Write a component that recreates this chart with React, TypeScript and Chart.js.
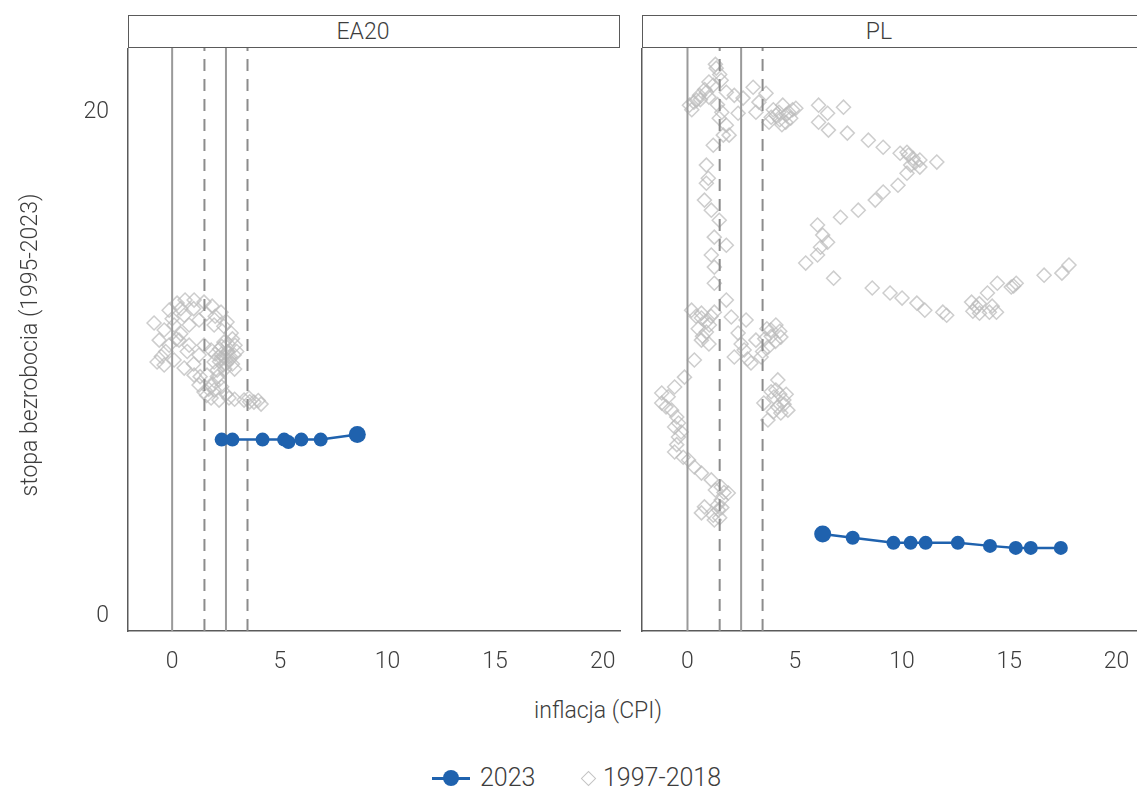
import React, { useEffect, useRef } from "react";
import { Chart, registerables } from "chart.js";

Chart.register(...registerables);

// ---------- data ----------
const panelNames = ["EA20", "PL"];
const xTickValues = [0, 5, 10, 15, 20];
const yTickValues = [0, 20];
const refSolid = [0, 2.5];
const refDashed = [1.5, 3.5];
const xTitle = "inflacja (CPI)";
const yTitle = "stopa bezrobocia (1995-2023)";
const legendLabels = ["2023", "1997-2018"];

const eaCpi2023 = [2.3, 2.8, 4.2, 5.2, 5.4, 6.0, 6.9, 8.6];
const eaUnemp2023 = [7.0, 7.0, 7.0, 7.0, 6.9, 7.0, 7.0, 7.2];

const plCpi2023 = [6.3, 7.7, 9.6, 10.4, 11.1, 12.6, 14.1, 15.3, 16.0, 17.4];
const plUnemp2023 = [3.25, 3.1, 2.9, 2.9, 2.9, 2.9, 2.78, 2.7, 2.7, 2.7];

const eaHistCpi = [
  -0.84, -0.6, -0.7, -0.37, -0.14, 0.23, 0.6, 1.02, 1.48, 1.86,
  2.27, 2.55, 2.74, 2.92, 2.55, 2.27, 1.95, 2.09, 2.37, 2.64,
  1.81, 1.48, 1.25, 0.79, 0.32, 0.09, 0.56, 1.02, 1.25, 1.48,
  1.81, 2.18, 2.64, 3.34, 3.8, 4.13, 3.57, 0.79, 1.25, 0.09,
  -0.14, -0.37, 0.56, 1.95, 2.41, 2.88, 2.18, 1.62, 1.95, 2.3,
  2.5, 2.6, 2.2,
  2.4, 2.5, 2.7, 2.3, 2.6, 2.2, 2.0, 2.8, 2.45, 2.1,
  1.9, 1.7, 2.3, 2.5, 1.3, 1.0, 0.7, 0.4, 0.2, -0.3,
  -0.5, 0.0, 0.4, 1.0, 1.6, 2.0, 2.4, 2.8, 3.0, 2.9,
  3.6, 4.0, 2.9, 1.6,
];
const eaHistUnemp = [
  11.63, 10.95, 10.08, 11.35, 12.14, 12.42, 12.54, 12.54, 12.46, 12.3,
  12.06, 11.67, 11.23, 10.75, 10.48, 10.24, 10.08, 9.76, 9.96, 10.16,
  10.56, 10.75, 10.36, 10.75, 10.95, 10.16, 9.84, 9.56, 9.17, 8.89,
  8.65, 8.57, 8.65, 8.57, 8.49, 8.41, 8.65, 11.55, 11.75, 11.55,
  10.75, 9.96, 11.94, 11.55, 10.87, 10.36, 9.37, 9.56, 8.97, 10.4,
  10.2, 10.5, 10.6,
  10.3, 10.0, 10.3, 10.7, 10.8, 10.1, 10.4, 10.0, 9.8, 9.5,
  9.2, 9.0, 9.1, 8.8, 9.5, 10.0, 10.5, 11.2, 11.0, 10.5,
  10.3, 11.8, 12.2, 12.2, 12.0, 11.9, 11.5, 11.0, 10.5, 9.8,
  8.5, 8.55, 8.6, 8.75,
];

const plHistCpi = [
  1.34, 1.2, 0.56, 0.09, 0.42, 0.88, 1.57, 1.81, 2.18, 1.48,
  1.81, 1.94, 1.67, 1.2, 0.88, 0.97, 3.06, 3.33, 3.66, 3.19,
  3.8, 4.26, 4.72, 5.05, 4.58, 2.59, 2.36, 4.44, 4.81, 4.12,
  6.11, 6.53, 7.27, 6.11, 6.57, 7.45, 8.43, 9.12, 9.91, 10.23,
  10.51, 10.83, 11.62, 10.83, 10.23, 9.81, 9.12, 8.75, 7.96, 7.13,
  6.06, 6.3, 6.53, 6.2, 6.06, 5.51, 6.81, 8.61, 9.44, 10.0,
  10.69, 11.06, 11.9, 12.08, 13.24, 13.47, 13.61, 14.07, 14.4, 13.98,
  14.44, 15.09, 15.32, 16.62, 17.45, 17.78,
  0.88, 0.79, 1.11, 1.48, 1.25, 1.81, 1.11, 1.25, 1.25, 1.81,
  0.65, 2.04,
  0.19, 0.65, 1.02, 1.25, 0.65, 0.88, 0.32, -0.14, -0.6, -1.2,
  -1.2, -0.74, -0.42, 2.36, 2.18, 2.64, 2.96, 3.89, 4.35, 3.75,
  3.43, 4.12, 4.21, 4.03, 4.49, 3.56, 4.35, 3.75, 4.68, 4.12,
  2.73, 3.19,
  -0.6, -0.42, -0.6, 0.05, 0.32, 0.65, 1.11, 1.57, 1.9, 1.57,
  0.79, 0.65, 1.25, 1.44,
  0.3, 0.6, 0.8, 1.0, 1.5, 1.3, 0.2, 1.0, 1.4, 1.6,
  4.0, 4.3, 4.6, 4.9, 4.4, 3.9, 10.3, 10.6, 10.4,
  0.4, 0.9, 1.1, 0.5, 0.7, 1.0, 3.6, 3.9, 4.1, 3.7,
  4.3, 3.5, 2.5, 2.8, 4.2, 4.5, 4.0, 4.3, 3.9, 4.6,
  -0.9, -1.0, -0.5, -0.3, -0.5, -0.2, 1.4, 1.6, 1.2, 1.5,
  1.7, 1.3, 13.3, 13.6, 14.2, 15.2,
];
const plHistUnemp = [
  21.75, 21.07, 20.67, 20.28, 20.48, 20.79, 21.27, 20.79, 20.67, 19.76,
  19.48, 19.09, 19.09, 18.69, 17.9, 17.38, 20.99, 20.4, 20.75, 20.0,
  19.6, 20.0, 20.0, 20.16, 19.6, 20.56, 19.96, 20.28, 19.76, 19.88,
  20.28, 19.96, 20.2, 19.6, 19.29, 19.17, 18.89, 18.61, 18.37, 18.41,
  18.17, 18.1, 18.02, 17.82, 17.58, 17.1, 16.83, 16.51, 16.11, 15.83,
  15.52, 15.12, 14.84, 14.64, 14.33, 14.01, 13.41, 13.02, 12.82, 12.62,
  12.42, 12.14, 12.06, 11.94, 12.46, 12.26, 12.02, 12.06, 12.06, 12.82,
  13.21, 13.06, 13.21, 13.53, 13.61, 13.93,
  17.18, 16.51, 16.11, 15.71, 15.04, 14.72, 14.33, 13.85, 13.21, 12.54,
  12.02, 11.87,
  12.14, 11.83, 11.55, 12.06, 10.95, 11.27, 10.16, 9.48, 9.09, 8.85,
  8.45, 8.17, 7.66, 11.23, 10.28, 10.56, 10.04, 11.35, 11.07, 10.67,
  10.28, 11.55, 9.37, 8.69, 8.57, 8.45, 8.06, 7.78, 8.17, 8.97,
  11.75, 10.95,
  7.5, 7.1, 6.51, 6.19, 5.91, 5.67, 5.4, 5.12, 4.88, 4.6,
  4.33, 4.09, 3.81, 4.21,
  20.4, 20.5, 20.9, 21.2, 21.5, 21.9, 20.1, 20.6, 20.3, 20.0,
  20.1, 19.7, 19.9, 20.1, 19.5, 19.8, 18.3, 18.0, 17.9,
  11.9, 11.7, 11.9, 11.4, 11.1, 10.8, 11.0, 11.1, 10.9, 11.4,
  11.3, 10.5, 10.8, 10.2, 8.3, 8.4, 8.1, 8.8, 8.9, 8.8,
  8.7, 8.3, 7.9, 7.3, 6.8, 6.3, 4.4, 4.3, 4.0, 3.9,
  4.9, 5.0, 12.1, 12.4, 12.3, 13.1,
];

// ---------- styles ----------
const FONT = "Roboto, 'Liberation Sans', sans-serif";
const TEXT = "#3d3d3d";
const AXIS = "#5a5a5a";
const BLUE = "#1f62ae";
const GREY = "rgba(188,188,188,0.75)";
const Y_MIN = -0.6;
const Y_MAX = 22.55;

type PanelProps = {
  left: number;
  width: number;
  yAxisWidth: number;
  padRight: number;
  showYLabels: boolean;
  xMin: number;
  xMax: number;
  cpi: number[];
  unemp: number[];
  radii: number[];
  histCpi: number[];
  histUnemp: number[];
};

function Panel(p: PanelProps) {
  const ref = useRef<HTMLCanvasElement>(null);
  useEffect(() => {
    const font = { family: FONT, size: 23, weight: "300" as any };
    const lineDs = (v: number, dash: number[], color: string) => ({
      data: [
        { x: v, y: Y_MIN },
        { x: v, y: Y_MAX },
      ],
      showLine: true,
      borderColor: color,
      borderWidth: 2,
      borderDash: dash,
      pointRadius: 0,
    });
    const chart = new Chart(ref.current!, {
      type: "scatter",
      data: {
        datasets: [
          {
            label: legendLabels[0],
            data: p.cpi.map((x, i) => ({ x, y: p.unemp[i] })),
            showLine: true,
            borderColor: BLUE,
            backgroundColor: BLUE,
            borderWidth: 2.5,
            pointRadius: p.radii,
            pointBorderColor: BLUE,
            pointBackgroundColor: BLUE,
            pointBorderWidth: 0,
          } as any,
          ...refSolid.map((v) => lineDs(v, [], "#9a9a9a")),
          ...refDashed.map((v) => lineDs(v, [12, 8], "#8c8c8c")),
          {
            label: legendLabels[1],
            data: p.histCpi.map((x, i) => ({ x, y: p.histUnemp[i] })),
            pointStyle: "rectRot",
            pointRadius: 7,
            pointBorderColor: GREY,
            pointBackgroundColor: "rgba(0,0,0,0)",
            pointBorderWidth: 1.5,
          } as any,
        ],
      },
      options: {
        animation: false,
        responsive: false,
        maintainAspectRatio: false,
        events: [],
        layout: { autoPadding: false, padding: { left: 0, right: p.padRight, top: 0, bottom: 0 } },
        plugins: { legend: { display: false }, tooltip: { enabled: false } },
        scales: {
          x: {
            type: "linear",
            min: p.xMin,
            max: p.xMax,
            grid: { display: false, drawTicks: false },
            border: { display: true, color: AXIS, width: 1.5 },
            ticks: { padding: 17, font, color: TEXT },
            afterBuildTicks: (s: any) => {
              s.ticks = xTickValues.map((value) => ({ value }));
            },
            afterFit: (s: any) => {
              s.height = 40;
              s.paddingLeft = 0;
              s.paddingRight = 0;
            },
          },
          y: {
            type: "linear",
            min: Y_MIN,
            max: Y_MAX,
            grid: { display: false, drawTicks: false },
            border: { display: true, color: AXIS, width: 1.5 },
            ticks: { display: p.showYLabels, padding: 19, font, color: TEXT },
            afterBuildTicks: (s: any) => {
              s.ticks = yTickValues.map((value) => ({ value }));
            },
            afterFit: (s: any) => {
              s.width = p.yAxisWidth;
              s.paddingTop = 0;
              s.paddingBottom = 0;
            },
          },
        },
      } as any,
    });
    return () => chart.destroy();
  }, []);
  return (
    <canvas
      ref={ref}
      width={p.width}
      height={623}
      style={{ position: "absolute", left: p.left, top: 48, width: p.width, height: 623 }}
    />
  );
}

const stripStyle = (left: number, width: number): React.CSSProperties => ({
  position: "absolute",
  left,
  top: 15,
  width,
  height: 33,
  boxSizing: "border-box",
  border: "1.5px solid #5a5a5a",
  background: "#fff",
  display: "flex",
  alignItems: "center",
  justifyContent: "center",
  paddingRight: 22,
  fontFamily: FONT,
  fontWeight: 300,
  fontSize: 23,
  color: TEXT,
});

export default function App() {
  return (
    <div
      style={{
        position: "absolute",
        left: 0,
        top: 0,
        width: 1137,
        height: 793,
        background: "#fff",
        overflow: "hidden",
        fontFamily: FONT,
        color: TEXT,
      }}
    >
      <Panel
        left={0}
        width={625}
        yAxisWidth={128}
        padRight={5}
        showYLabels={true}
        xMin={-2.05}
        xMax={20.8}
        cpi={eaCpi2023}
        unemp={eaUnemp2023}
        radii={[7, 7, 7, 7, 7, 7, 7, 8.5]}
        histCpi={eaHistCpi}
        histUnemp={eaHistUnemp}
      />
      <Panel
        left={625}
        width={512}
        yAxisWidth={17}
        padRight={0}
        showYLabels={false}
        xMin={-2.12}
        xMax={20.95}
        cpi={plCpi2023}
        unemp={plUnemp2023}
        radii={[8.5, 7, 7, 7, 7, 7, 7, 7, 7, 7]}
        histCpi={plHistCpi}
        histUnemp={plHistUnemp}
      />
      <div style={stripStyle(128, 492)}>{panelNames[0]}</div>
      <div style={stripStyle(642, 496)}>{panelNames[1]}</div>
      <div
        style={{
          position: "absolute",
          left: 498,
          width: 200,
          top: 697,
          textAlign: "center",
          fontSize: 23,
          fontWeight: 300,
        }}
      >
        {xTitle}
      </div>
      <div
        style={{
          position: "absolute",
          left: 30 - 200,
          top: 345 - 14,
          width: 400,
          height: 28,
          lineHeight: "28px",
          textAlign: "center",
          fontSize: 23,
          fontWeight: 300,
          transform: "rotate(-90deg)",
        }}
      >
        {yTitle}
      </div>
      {/* legend */}
      <div style={{ position: "absolute", left: 432, top: 777, width: 38, height: 3, background: BLUE }} />
      <div
        style={{
          position: "absolute",
          left: 443,
          top: 770,
          width: 16,
          height: 16,
          borderRadius: 8,
          background: BLUE,
        }}
      />
      <div style={{ position: "absolute", left: 480, top: 762, fontSize: 25, fontWeight: 300, lineHeight: "32px" }}>
        {legendLabels[0]}
      </div>
      <div
        style={{
          position: "absolute",
          left: 583,
          top: 773,
          width: 9,
          height: 9,
          border: "1.5px solid #c4c4c4",
          transform: "rotate(45deg)",
        }}
      />
      <div style={{ position: "absolute", left: 603, top: 762, fontSize: 25, fontWeight: 300, lineHeight: "32px" }}>
        {legendLabels[1]}
      </div>
    </div>
  );
}
